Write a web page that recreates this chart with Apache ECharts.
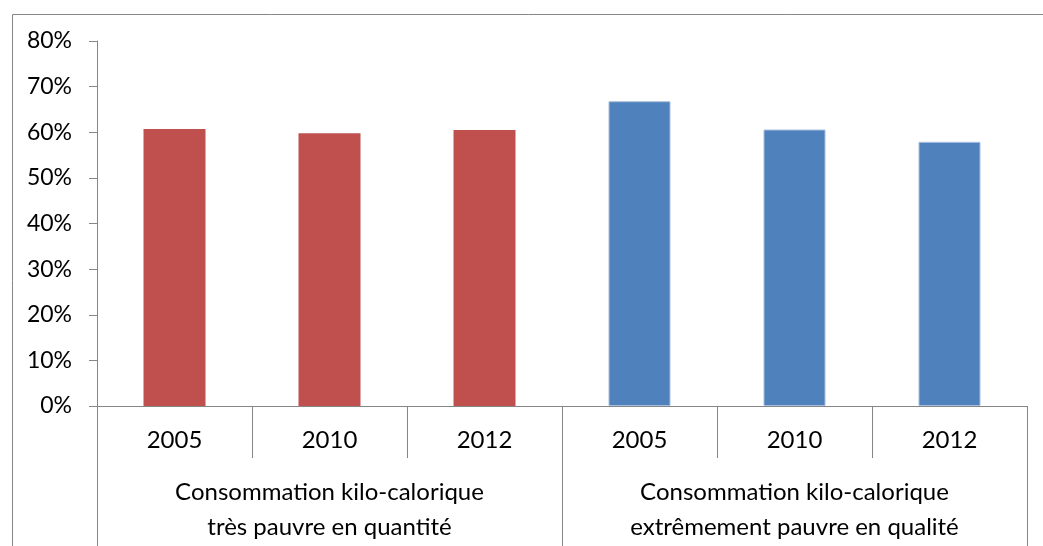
<!DOCTYPE html>
<html>
<head>
<meta charset="utf-8">
<script src="https://cdn.jsdelivr.net/npm/echarts@6/dist/echarts.min.js"></script>
<style>
  html, body { margin: 0; padding: 0; background: #fff; }
  #chart { width: 1043px; height: 546px; }
</style>
</head>
<body>
<div id="chart"></div>
<script>
// Years shown under each bar, and the group each year belongs to
const years = ['2005', '2010', '2012', '2005', '2010', '2012'];
const groups = [
  'Consommation kilo-calorique\ntrès pauvre en quantité',
  'Consommation kilo-calorique\nextrêmement pauvre en qualité'
];
// Share of households (fraction), one value per year within each group
const quantiteValues = [0.607, 0.598, 0.605, null, null, null];
const qualiteValues = [null, null, null, 0.668, 0.606, 0.579];
const yTicks = [0, 0.1, 0.2, 0.3, 0.4, 0.5, 0.6, 0.7, 0.8];

const FONT = 'Lato';
const AXIS_GRAY = '#868686';

const chart = echarts.init(document.getElementById('chart'), null, { renderer: 'canvas' });

chart.setOption({
  animation: false,
  backgroundColor: '#ffffff',
  textStyle: { fontFamily: FONT },
  graphic: [{
    type: 'rect',
    left: 10, top: 12,
    shape: { width: 1100, height: 600 },
    style: { fill: 'none', stroke: AXIS_GRAY, lineWidth: 1 },
    silent: true
  }],
  grid: { left: 97, right: 16, top: 41, bottom: 140 },
  xAxis: [{
    type: 'category',
    data: years,
    position: 'bottom',
    axisLine: { lineStyle: { color: AXIS_GRAY, width: 1 } },
    axisTick: { show: true, interval: 0, length: 52, lineStyle: { color: AXIS_GRAY } },
    axisLabel: { interval: 0, color: '#000', fontFamily: FONT, fontSize: 24, margin: 22 }
  }, {
    type: 'category',
    data: groups,
    position: 'bottom',
    axisLine: { show: false },
    axisTick: { show: true, interval: 0, length: 150, lineStyle: { color: AXIS_GRAY } },
    axisLabel: { interval: 0, color: '#000', fontFamily: FONT, fontSize: 24, lineHeight: 35, margin: 69 }
  }],
  yAxis: {
    type: 'value',
    min: 0, max: 0.8, interval: 0.1,
    splitLine: { show: false },
    axisLine: { show: true, lineStyle: { color: AXIS_GRAY } },
    axisTick: { show: true, length: 8, lineStyle: { color: AXIS_GRAY } },
    axisLabel: {
      color: '#000', fontFamily: FONT, fontSize: 23, margin: 25,
      formatter: v => yTicks.includes(Math.round(v * 10) / 10) ? Math.round(v * 100) + '%' : ''
    }
  },
  series: [{
    type: 'bar',
    name: 'quantité',
    data: quantiteValues,
    barWidth: '40%',
    barGap: '-100%',
    itemStyle: { color: '#C0504D' }
  }, {
    type: 'bar',
    name: 'qualité',
    data: qualiteValues,
    barWidth: '40%',
    barGap: '-100%',
    itemStyle: { color: '#4F81BD', borderColor: '#A7BFDE', borderWidth: 1 }
  }]
});
</script>
</body>
</html>
